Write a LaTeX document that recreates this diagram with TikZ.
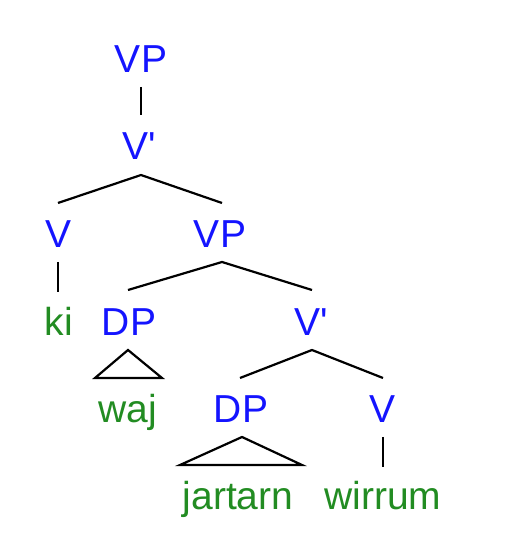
\documentclass[tikz,border=0pt]{standalone}
\usepackage{fontspec}
\setmainfont{Liberation Sans}
\definecolor{catblue}{RGB}{20,20,255}
\definecolor{wordgreen}{RGB}{34,140,34}
\begin{document}
\begin{tikzpicture}[x=1pt,y=1pt,
  lab/.style={anchor=base,inner sep=0pt,font=\fontsize{39}{45}\selectfont},
  cat/.style={lab,text=catblue},
  word/.style={lab,text=wordgreen},
  branch/.style={line width=2.2pt,line join=miter},
  stem/.style={line width=1.6pt}]
\useasboundingbox (0,0) rectangle (511,559);
% nodes
\node[cat] (vp1) at (141,486) {VP};
\node[cat] (vb1) at (139,399) {V\textquotesingle};
\node[cat] (v1) at (58.5,311) {V};
\node[cat] (vp2) at (220,311) {VP};
\node[word] (ki) at (59,223) {ki};
\node[cat] (dp1) at (129,223) {DP};
\node[cat] (vb2) at (311,223) {V\textquotesingle};
\node[word] (waj) at (128,136) {waj};
\node[cat] (dp2) at (241,136) {DP};
\node[cat] (v2) at (383,136) {V};
\node[word] (jartarn) at (238,49) {jartarn};
\node[word] (wirrum) at (383,49) {wirrum};
% connector points
\coordinate (vp1s) at (141,472);
\coordinate (vb1n) at (141,444);
\coordinate (vb1a) at (141,384);
\coordinate (v1n) at (58,356);
\coordinate (vp2n) at (222,356);
\coordinate (v1s) at (58,297);
\coordinate (kin) at (58,267);
\coordinate (vp2a) at (222,297);
\coordinate (dp1n) at (128,269);
\coordinate (vb2n) at (312,269);
\coordinate (dp1a) at (128,209);
\coordinate (dp1l) at (95,181);
\coordinate (dp1r) at (162,181);
\coordinate (vb2a) at (312,209);
\coordinate (dp2n) at (240,181);
\coordinate (v2n) at (383,181);
\coordinate (dp2a) at (242,122);
\coordinate (dp2l) at (180,94);
\coordinate (dp2r) at (302,94);
\coordinate (v2s) at (383,122);
\coordinate (wirn) at (383,92);
% connectors
\draw[stem] (vp1s) -- (vb1n);
\draw[branch] (v1n) -- (vb1a) -- (vp2n);
\draw[stem] (v1s) -- (kin);
\draw[branch] (dp1n) -- (vp2a) -- (vb2n);
\draw[branch] (dp1a) -- (dp1l) -- (dp1r) -- cycle;
\draw[branch] (dp2n) -- (vb2a) -- (v2n);
\draw[branch] (dp2a) -- (dp2l) -- (dp2r) -- cycle;
\draw[stem] (v2s) -- (wirn);
\end{tikzpicture}
\end{document}
